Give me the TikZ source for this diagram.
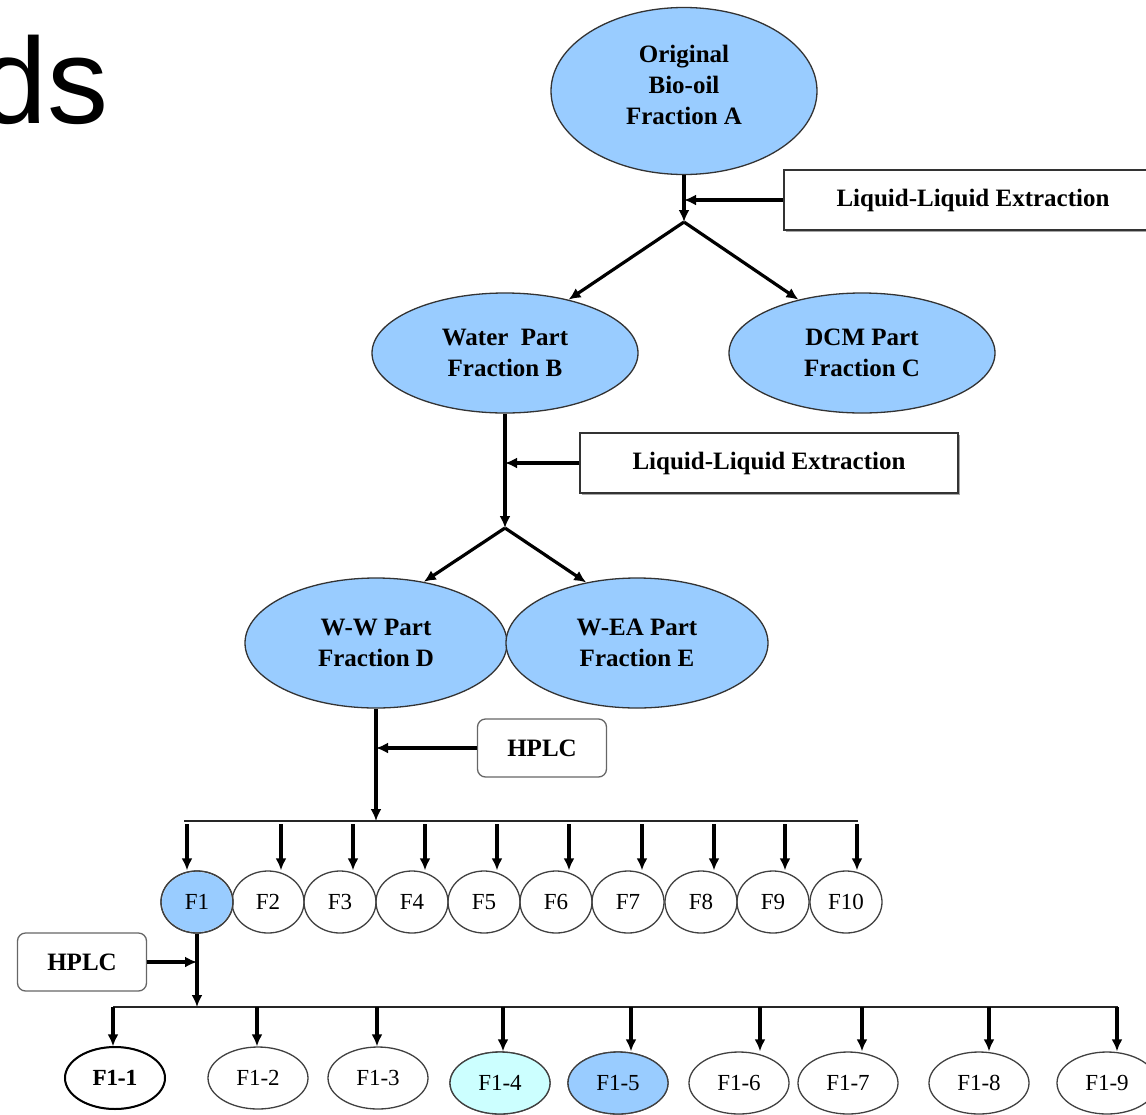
\documentclass[tikz,border=0pt]{standalone}
\usepackage{fontspec}
\setmainfont{Liberation Serif}
\newfontfamily\slidefont{Liberation Sans}
\usetikzlibrary{shapes.geometric,arrows.meta,shadows,positioning}
\definecolor{fracblue}{HTML}{99CCFF}
\definecolor{fraccyan}{HTML}{CCFFFF}

\begin{document}
\begin{tikzpicture}[x=1pt, y=-1pt, >={Latex[length=12pt,width=11pt]},
		bigfrac/.style={ellipse, draw=black!80, line width=1.3pt, fill=fracblue, inner sep=0pt,
			align=center, font=\bfseries\fontsize{25}{31}\selectfont},
		smallfrac/.style={ellipse, draw=black!75, line width=1.3pt, inner sep=0pt,
			minimum width=72pt, minimum height=62pt, font=\fontsize{23}{26}\selectfont},
		subfrac/.style={ellipse, draw=black!75, line width=1.3pt, inner sep=0pt,
			minimum width=100pt, minimum height=62pt, font=\fontsize{23}{26}\selectfont},
		llebox/.style={draw=black!80, line width=1.3pt, fill=white, inner sep=0pt,
			minimum width=378pt, minimum height=60pt, font=\bfseries\fontsize{25}{31}\selectfont,
			drop shadow={shadow xshift=1.5pt, shadow yshift=-2pt, fill=black!35, opacity=1}},
		hplcbox/.style={draw=black!60, line width=1.3pt, rounded corners=8pt, inner sep=0pt,
			minimum width=129pt, minimum height=58pt, font=\bfseries\fontsize{25}{31}\selectfont},
		flow/.style={->, line width=3.2pt},
		bus/.style={line width=2.4pt, draw=black!85}]

		% 1. Page frame and the cut-off slide title
		\useasboundingbox (0,0) rectangle (1146,1114);
		\node[anchor=base west, inner sep=0pt, font=\slidefont\fontsize{122}{122}\selectfont] (title) at (-21,123) {ds};

		% 2. Original bio-oil and first extraction
		\node[bigfrac, minimum width=266pt, minimum height=167pt] (fracA) at (684,91) {Original\\Bio-oil\\Fraction A\\[-19pt]};
		\node[llebox] (lle1) at (973,200) {Liquid-Liquid Extraction};
		\coordinate (splitA) at (684,222);
		\draw[flow] (fracA.south) -- (splitA);
		\draw[flow] (lle1.west) -- (lle1.west -| splitA);

		\node[bigfrac, minimum width=266pt, minimum height=120pt] (fracB) at (505,353) {Water\ \ Part\\Fraction B};
		\node[bigfrac, minimum width=266pt, minimum height=120pt] (fracC) at (862,353) {DCM Part\\Fraction C};
		\draw[flow] (splitA) -- (fracB.40);
		\draw[flow] (splitA) -- (fracC.140);

		% 3. Second extraction of the water part
		\node[llebox] (lle2) at (769,463) {Liquid-Liquid Extraction};
		\coordinate (splitB) at (505,528);
		\draw[flow] (fracB.south) -- (splitB);
		\draw[flow] (lle2.west) -- (lle2.west -| splitB);

		\node[bigfrac, minimum width=262pt, minimum height=130pt] (fracD) at (376,643) {W-W Part\\Fraction D};
		\node[bigfrac, minimum width=262pt, minimum height=130pt] (fracE) at (637,643) {W-EA Part\\Fraction E};
		\draw[flow] (splitB) -- (fracD.52);
		\draw[flow] (splitB) -- (fracE.130);

		% 4. HPLC of fraction D into F1 ... F10
		\node[hplcbox] (hplc1) at (542,748) {HPLC};
		\coordinate (busAleft) at (184,821);
		\coordinate (busAright) at (858,821);
		\draw[flow] (fracD.south) -- (fracD.south |- busAleft);
		\draw[flow] (hplc1.west) -- (hplc1.west -| fracD.south);
		\draw[bus] (busAleft) -- (busAright);

		\foreach \i/\cx/\ax in {1/197/187, 2/268/281, 3/340/353, 4/412/425, 5/484/497,
				6/556/569, 7/628/642, 8/701/714, 9/773/785, 10/846/857} {
			\node[smallfrac] (f\i) at (\cx,902) {F\i};
			\coordinate (tapA\i) at (\ax,824);
			\draw[flow] (tapA\i) -- (tapA\i |- f\i.north);
		}
		\fill[fracblue] (f1.center) ellipse (35pt and 30pt);
		\node[smallfrac] at (f1) {F1};

		% 5. HPLC of F1 into F1-1 ... F1-9
		\node[hplcbox] (hplc2) at (82,962) {HPLC};
		\coordinate (busBleft) at (113,1007);
		\coordinate (busBright) at (1118,1007);
		\draw[flow] (f1.south) -- (f1.south |- busBleft);
		\draw[flow] (hplc2.east) -- (hplc2.east -| f1.south);
		\draw[bus] (busBleft) -- (busBright);

		\foreach \i/\cx/\cy/\ax in {1/115/1078/113, 2/258/1078/257, 3/378/1078/377, 4/500/1083/503,
				5/618/1083/631, 6/739/1083/760, 7/848/1083/862, 8/979/1083/989, 9/1107/1083/1117} {
			\node[subfrac] (g\i) at (\cx,\cy) {F1-\i};
			\coordinate (tapB\i) at (\ax,1007);
			\draw[flow] (tapB\i) -- (tapB\i |- g\i.north);
		}
		% highlighted sub-fractions
		\node[subfrac, draw=black, line width=2pt, font=\bfseries\fontsize{23}{26}\selectfont] at (g1) {F1-1};
		\node[subfrac, fill=fraccyan] at (g4) {F1-4};
		\node[subfrac, fill=fracblue] at (g5) {F1-5};
\end{tikzpicture}
\end{document}
